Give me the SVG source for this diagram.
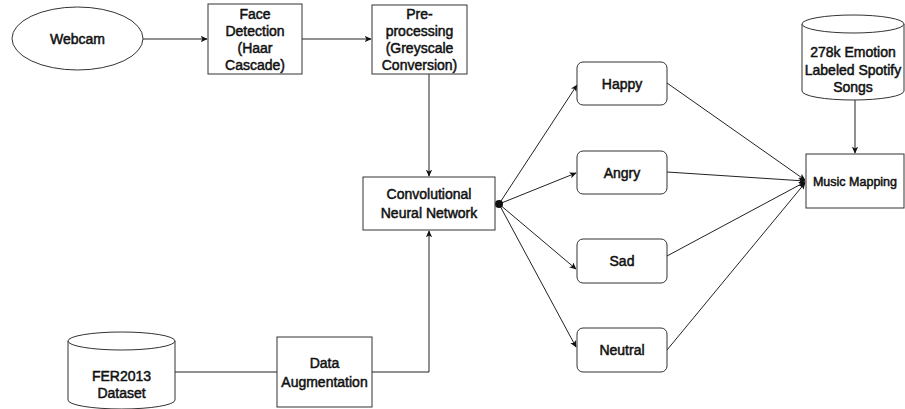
<svg xmlns="http://www.w3.org/2000/svg" width="905" height="409" viewBox="0 0 905 409">
<style>
.s{fill:#fff;stroke:#333;stroke-width:1}
.t{font-family:"Liberation Sans",Arial,sans-serif;font-size:14px;fill:#111;stroke:#111;stroke-width:0.5;text-anchor:middle}
.c{fill:none;stroke:#222;stroke-width:1}
</style>
<defs>
<marker id="a" viewBox="0 0 10 10" refX="9" refY="5" markerWidth="7" markerHeight="7" markerUnits="userSpaceOnUse" orient="auto">
<path d="M0,0.5 L10,5 L0,9.5 L2.5,5 Z" fill="#111"/>
</marker>
</defs>
<rect width="905" height="409" fill="#fff"/>
<g id="connectors">
<line class="c" x1="143" y1="39" x2="207" y2="39" marker-end="url(#a)"/>
<line class="c" x1="302" y1="39" x2="371" y2="39" marker-end="url(#a)"/>
<line class="c" x1="429" y1="74" x2="429" y2="176" marker-end="url(#a)"/>
<path class="c" d="M372,372 H429 V231" marker-end="url(#a)"/>
<line class="c" x1="175" y1="372" x2="277" y2="372"/>
<line class="c" x1="499" y1="204" x2="577" y2="85" marker-end="url(#a)"/>
<line class="c" x1="499" y1="204" x2="576" y2="173" marker-end="url(#a)"/>
<line class="c" x1="499" y1="204" x2="576" y2="269" marker-end="url(#a)"/>
<line class="c" x1="499" y1="204" x2="576" y2="347" marker-end="url(#a)"/>
<circle cx="499" cy="204" r="4" fill="#111"/>
<line class="c" x1="667" y1="83" x2="805" y2="180" marker-end="url(#a)"/>
<line class="c" x1="667" y1="172" x2="805" y2="181" marker-end="url(#a)"/>
<line class="c" x1="667" y1="256" x2="805" y2="182" marker-end="url(#a)"/>
<line class="c" x1="667" y1="350" x2="805" y2="183" marker-end="url(#a)"/>
<line class="c" x1="855" y1="100" x2="855" y2="153" marker-end="url(#a)"/>
</g>
<g id="webcam">
<ellipse class="s" cx="77.5" cy="38.5" rx="65.5" ry="31.5"/>
<text class="t" x="77.5" y="44">Webcam</text>
</g>
<g id="face-detection">
<rect class="s" x="208" y="4" width="94" height="70"/>
<text class="t" x="255" y="19">Face</text>
<text class="t" x="255" y="36">Detection</text>
<text class="t" x="255" y="53">(Haar</text>
<text class="t" x="255" y="70">Cascade)</text>
</g>
<g id="preprocessing">
<rect class="s" x="372" y="5" width="95" height="69"/>
<text class="t" x="419.5" y="19">Pre-</text>
<text class="t" x="419.5" y="36">processing</text>
<text class="t" x="419.5" y="53">(Greyscale</text>
<text class="t" x="419.5" y="70">Conversion)</text>
</g>
<g id="cnn">
<rect class="s" x="363" y="177" width="132" height="53"/>
<text class="t" x="429" y="198.5">Convolutional</text>
<text class="t" x="429" y="217.5">Neural Network</text>
</g>
<g id="fer2013">
<path class="s" d="M68,341 V400 A53.5,9 0 0 0 175,400 V341"/>
<ellipse class="s" cx="121.5" cy="341" rx="53.5" ry="9"/>
<text class="t" x="121.5" y="380.5">FER2013</text>
<text class="t" x="121.5" y="397.5">Dataset</text>
</g>
<g id="data-augmentation">
<rect class="s" x="277" y="337" width="95" height="70"/>
<text class="t" x="324.5" y="368">Data</text>
<text class="t" x="324.5" y="387">Augmentation</text>
</g>
<g id="happy">
<rect class="s" x="577" y="62" width="90" height="43" rx="6"/>
<text class="t" x="622" y="88.5">Happy</text>
</g>
<g id="angry">
<rect class="s" x="577" y="151" width="90" height="43" rx="6"/>
<text class="t" x="622" y="177.5">Angry</text>
</g>
<g id="sad">
<rect class="s" x="577" y="239" width="90" height="44" rx="6"/>
<text class="t" x="622" y="266">Sad</text>
</g>
<g id="neutral">
<rect class="s" x="577" y="328" width="90" height="44" rx="6"/>
<text class="t" x="622" y="355">Neutral</text>
</g>
<g id="spotify-songs">
<path class="s" d="M802,24 V91 A51,9 0 0 0 904,91 V24"/>
<ellipse class="s" cx="853" cy="24" rx="51" ry="9"/>
<text class="t" x="853" y="57">278k Emotion</text>
<text class="t" x="853" y="75">Labeled Spotify</text>
<text class="t" x="853" y="92">Songs</text>
</g>
<g id="music-mapping">
<rect class="s" x="806" y="154" width="98" height="54"/>
<text class="t" x="855" y="185.5" style="font-size:12.5px">Music Mapping</text>
</g>
</svg>
